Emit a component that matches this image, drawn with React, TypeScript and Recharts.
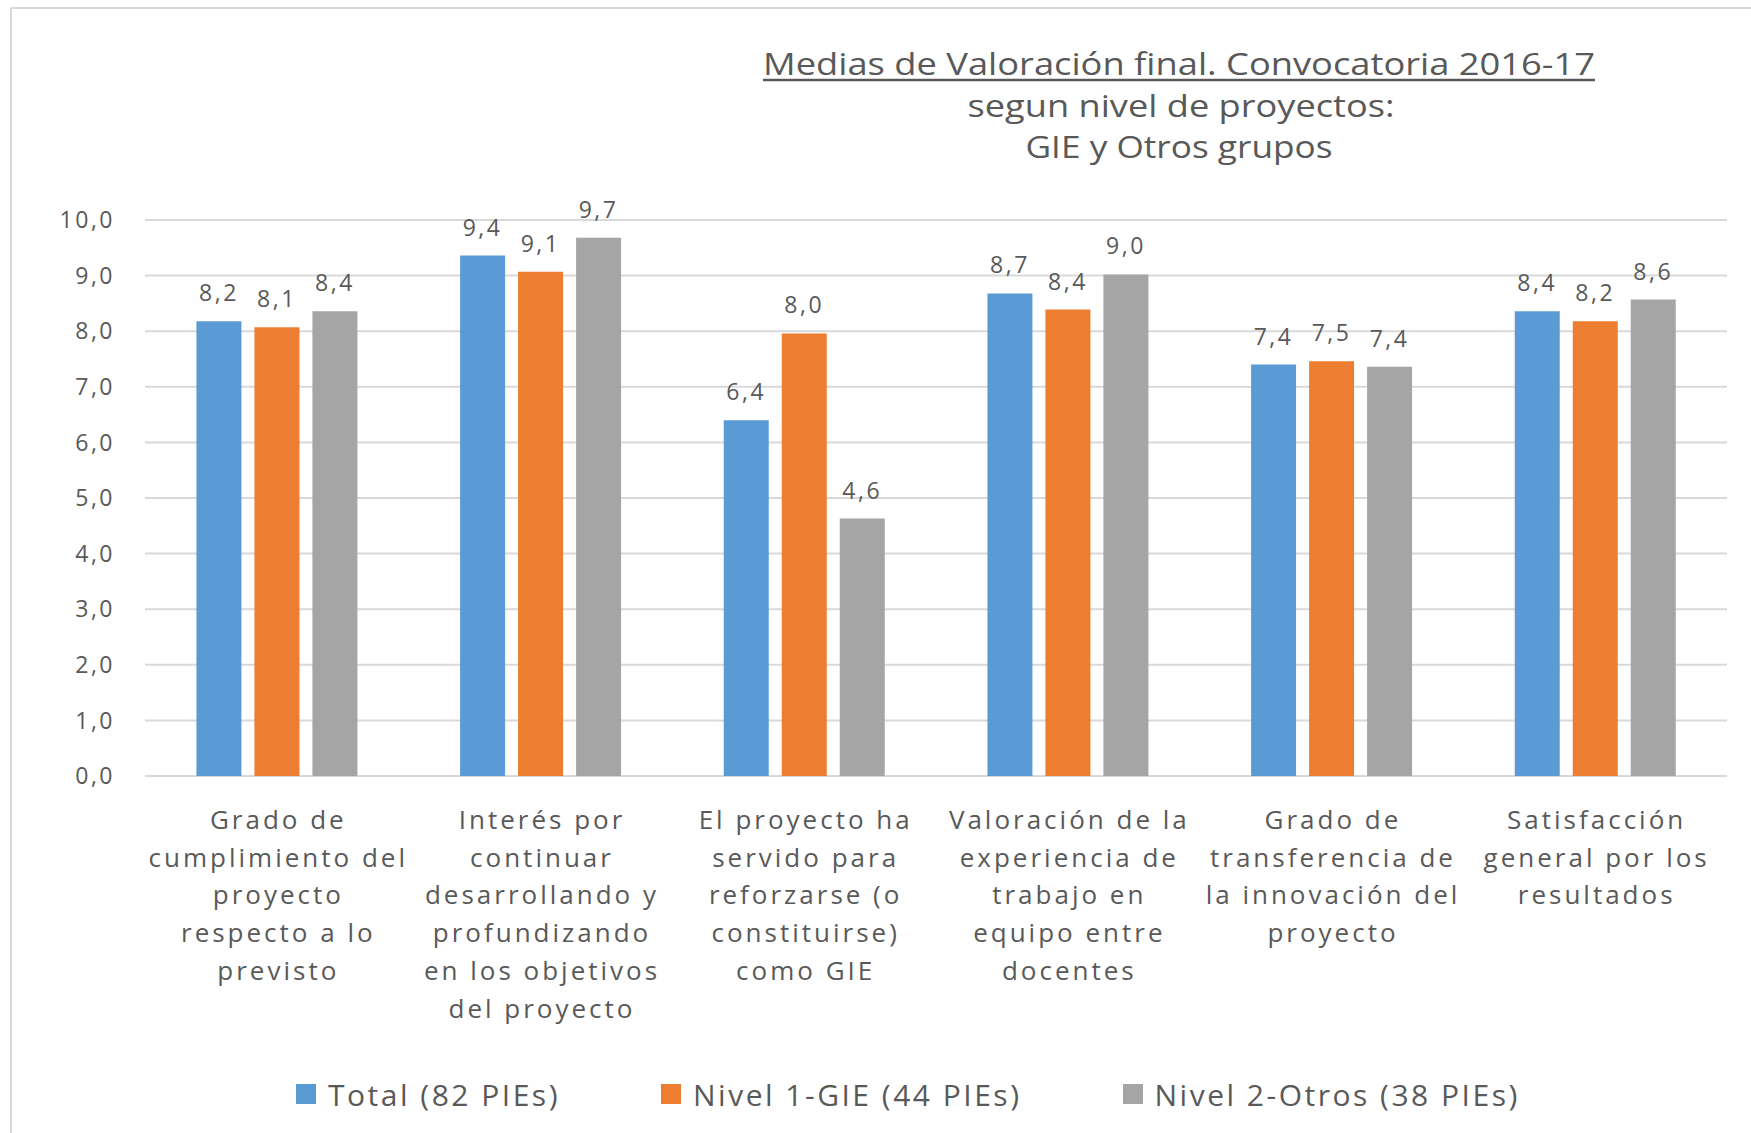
import React from 'react';
import { BarChart, Bar, XAxis, YAxis, CartesianGrid, Legend, LabelList } from 'recharts';

// category names, '\n' marks the line breaks used in the axis labels
const categories = [
  'Grado de\ncumplimiento del\nproyecto\nrespecto a lo\nprevisto',
  'Interés por\ncontinuar\ndesarrollando y\nprofundizando\nen los objetivos\ndel proyecto',
  'El proyecto ha\nservido para\nreforzarse (o\nconstituirse)\ncomo GIE',
  'Valoración de la\nexperiencia de\ntrabajo en\nequipo entre\ndocentes',
  'Grado de\ntransferencia de\nla innovación del\nproyecto',
  'Satisfacción\ngeneral por los\nresultados',
];

const total = [8.18, 9.36, 6.4, 8.68, 7.4, 8.36];
const nivel1 = [8.07, 9.07, 7.96, 8.39, 7.46, 8.18];
const nivel2 = [8.36, 9.68, 4.63, 9.02, 7.36, 8.57];

const seriesKeys = ['total', 'nivel1', 'nivel2'];
const seriesNames = ['Total (82 PIEs)', 'Nivel 1-GIE (44 PIEs)', 'Nivel 2-Otros (38 PIEs)'];
const seriesColors = ['#5B9BD5', '#ED7D31', '#A5A5A5'];

const yTicks = [0, 1, 2, 3, 4, 5, 6, 7, 8, 9, 10];

const titleLines = [
  'Medias de Valoración final.  Convocatoria 2016-17',
  'segun nivel de proyectos:',
  'GIE y Otros grupos',
];

const TEXT = '#595959';
const FONT = '"Open Sans", "DejaVu Sans", sans-serif';

const data = categories.map((name, i) => ({
  name,
  total: total[i],
  nivel1: nivel1[i],
  nivel2: nivel2[i],
}));

const fmt = (v: number) => Number(v).toFixed(1).replace('.', ',');

const CatTick = ({ x, y, payload }: any) => {
  const lines = String(payload.value).split('\n');
  return (
    <text x={x} y={y} textAnchor="middle" fill={TEXT} fontFamily={FONT} fontSize={26} letterSpacing={3}>
      {lines.map((l, i) => (
        <tspan key={i} x={x + 1.5} dy={i === 0 ? 53 : 37.7}>{l}</tspan>
      ))}
    </text>
  );
};

const renderLegend = (props: any) => {
  // keep the series order, not the alphabetical one
  const items = [...(props.payload || [])].sort(
    (a: any, b: any) => seriesNames.indexOf(a.value) - seriesNames.indexOf(b.value),
  );
  return (
    <div style={{ display: 'flex', alignItems: 'center', height: 44, paddingLeft: 296 }}>
      {items.map((it: any, i: number) => (
        <div key={i} style={{ display: 'flex', alignItems: 'center', marginRight: 101 }}>
          <span style={{ display: 'inline-block', width: 20, height: 20, background: it.color, marginRight: 12 }} />
          <span style={{ fontFamily: FONT, fontSize: 30, color: TEXT, letterSpacing: 2.5 }}>{it.value}</span>
        </div>
      ))}
    </div>
  );
};

export default function App() {
  return (
    <div style={{ position: 'absolute', left: 0, top: 0, width: 1751, height: 1133, background: '#fff' }}>
      <BarChart
        width={1751}
        height={1133}
        data={data}
        margin={{ top: 220, right: 24, bottom: 17, left: 45 }}
        barCategoryGap="19.5%"
        barGap={13}
      >
        <CartesianGrid vertical={false} stroke="#D9D9D9" strokeWidth={2} />
        <XAxis
          dataKey="name"
          axisLine={false}
          tickLine={false}
          tickSize={0}
          tickMargin={0}
          height={296}
          interval={0}
          tick={<CatTick />}
        />
        <YAxis
          domain={[0, 10]}
          ticks={yTicks}
          axisLine={false}
          tickLine={false}
          tickSize={0}
          tickMargin={30}
          width={100}
          tickFormatter={fmt}
          tick={{ fill: TEXT, fontFamily: FONT, fontSize: 23, letterSpacing: 2.5 }}
        />
        <Legend
          verticalAlign="bottom"
          height={44}
          content={renderLegend}
          wrapperStyle={{ left: 0, width: 1751 }}
        />
        {seriesKeys.map((k, i) => (
          <Bar key={k} dataKey={k} name={seriesNames[i]} fill={seriesColors[i]} isAnimationActive={false}>
            <LabelList
              dataKey={k}
              position="top"
              offset={20}
              formatter={fmt}
              fill={TEXT}
              fontFamily={FONT}
              fontSize={23}
              letterSpacing={2.5}
            />
          </Bar>
        ))}
      </BarChart>
      <svg
        width={1751}
        height={1133}
        style={{ position: 'absolute', left: 0, top: 0, pointerEvents: 'none' }}
      >
        <line x1={11} y1={8} x2={1751} y2={8} stroke="#D9D9D9" strokeWidth={2} />
        <line x1={11} y1={8} x2={11} y2={1133} stroke="#D9D9D9" strokeWidth={2} />
        <text x={1179} y={75} textAnchor="middle" fill={TEXT} fontFamily={FONT} fontSize={31}
          textLength={832} lengthAdjust="spacingAndGlyphs">{titleLines[0]}</text>
        <line x1={763} y1={80} x2={1595} y2={80} stroke={TEXT} strokeWidth={2.5} />
        <text x={1181} y={117} textAnchor="middle" fill={TEXT} fontFamily={FONT} fontSize={31}
          textLength={427} lengthAdjust="spacingAndGlyphs">{titleLines[1]}</text>
        <text x={1179} y={158} textAnchor="middle" fill={TEXT} fontFamily={FONT} fontSize={31}
          textLength={307} lengthAdjust="spacingAndGlyphs">{titleLines[2]}</text>
      </svg>
    </div>
  );
}
